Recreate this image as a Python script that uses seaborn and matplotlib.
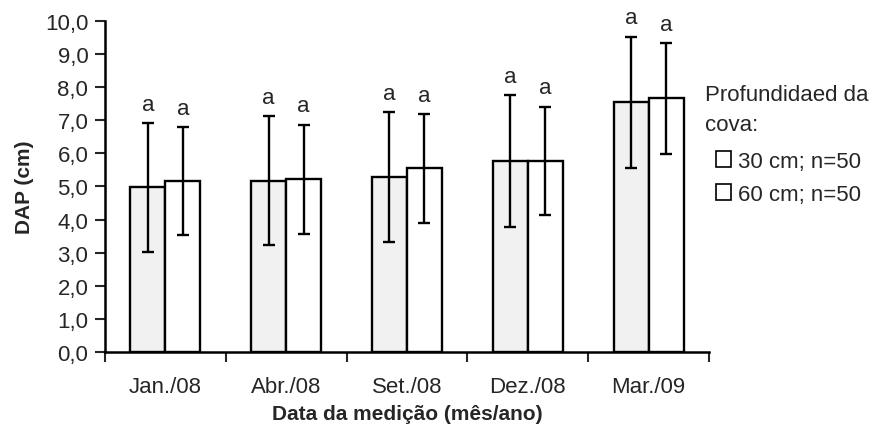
import numpy as np
import pandas as pd
import seaborn as sns
import matplotlib.pyplot as plt
from matplotlib.patches import Patch
from matplotlib.ticker import FixedLocator, FuncFormatter

# DAP medio e desvio por data de medicao
datas = ["Jan./08", "Abr./08", "Set./08", "Dez./08", "Mar./09"]
media_30 = [4.97, 5.18, 5.28, 5.77, 7.55]
media_60 = [5.16, 5.22, 5.55, 5.77, 7.66]
dp_30 = [1.95, 1.95, 1.96, 2.0, 1.98]
dp_60 = [1.63, 1.65, 1.64, 1.64, 1.68]
letras_30 = ["a", "a", "a", "a", "a"]
letras_60 = ["a", "a", "a", "a", "a"]
grupos = ["30 cm; n=50", "60 cm; n=50"]

df = pd.DataFrame({
    "data": datas * 2,
    "dap": media_30 + media_60,
    "prof": [grupos[0]] * len(datas) + [grupos[1]] * len(datas),
})

sns.set_style("white")
plt.rcParams["font.family"] = ["Liberation Sans", "DejaVu Sans"]

fig = plt.figure(figsize=(8.72, 4.27), dpi=100)
ax = fig.add_axes([0.1204, 0.1733, 0.6926, 0.7752])

cores = {grupos[0]: "#f1f1f1", grupos[1]: "white"}
sns.barplot(data=df, x="data", y="dap", hue="prof", palette=cores,
            width=0.58, gap=0, edgecolor="black", linewidth=1.7,
            legend=False, ax=ax)

# barras de erro e letras
for cont, dp, letras in zip(ax.containers, [dp_30, dp_60], [letras_30, letras_60]):
    for barra, d, l in zip(cont, dp, letras):
        xc = barra.get_x() + barra.get_width() / 2
        h = barra.get_height()
        ax.errorbar(xc, h, yerr=d, fmt="none", ecolor="black",
                    elinewidth=1.7, capsize=4.5, capthick=1.7)
        ax.text(xc, h + d + 0.25, l, ha="center", va="bottom", fontsize=16)

ax.set_xlim(-0.5, len(datas) - 0.5)
ax.set_ylim(0, 10)
ax.yaxis.set_major_locator(FixedLocator(np.arange(0, 10.5, 1.0)))
ax.yaxis.set_major_formatter(FuncFormatter(lambda v, p: f"{v:.1f}".replace(".", ",")))
ax.xaxis.set_minor_locator(FixedLocator(np.arange(-0.5, len(datas), 1.0)))

for s in ["top", "right"]:
    ax.spines[s].set_visible(False)
for s in ["left", "bottom"]:
    ax.spines[s].set_linewidth(1.8)
    ax.spines[s].set_color("black")

ax.tick_params(axis="y", which="major", direction="out", length=7, width=1.5,
               pad=5, labelsize=16, left=True)
ax.tick_params(axis="x", which="major", length=0, pad=17, labelsize=16)
ax.tick_params(axis="x", which="minor", direction="out", length=7, width=1.5,
               bottom=True)

ax.set_xlabel("Data da medição (mês/ano)", fontsize=15, fontweight="bold", labelpad=5)
ax.set_ylabel("DAP (cm)", fontsize=15, fontweight="bold", labelpad=8)

# legenda
fig.text(0.8085, 0.742, "Profundidaed da\ncova:", fontsize=16, ha="left",
         va="center", linespacing=1.55)
alcas = [Patch(facecolor="white", edgecolor="black", linewidth=1.2, label=g) for g in grupos]
fig.legend(handles=alcas, loc="upper left", bbox_to_anchor=(0.821, 0.645),
           frameon=False, fontsize=16, handlelength=0.7, handleheight=0.7,
           handletextpad=0.3, labelspacing=0.55, borderpad=0, borderaxespad=0)

fig.savefig("out.png", dpi=100)
